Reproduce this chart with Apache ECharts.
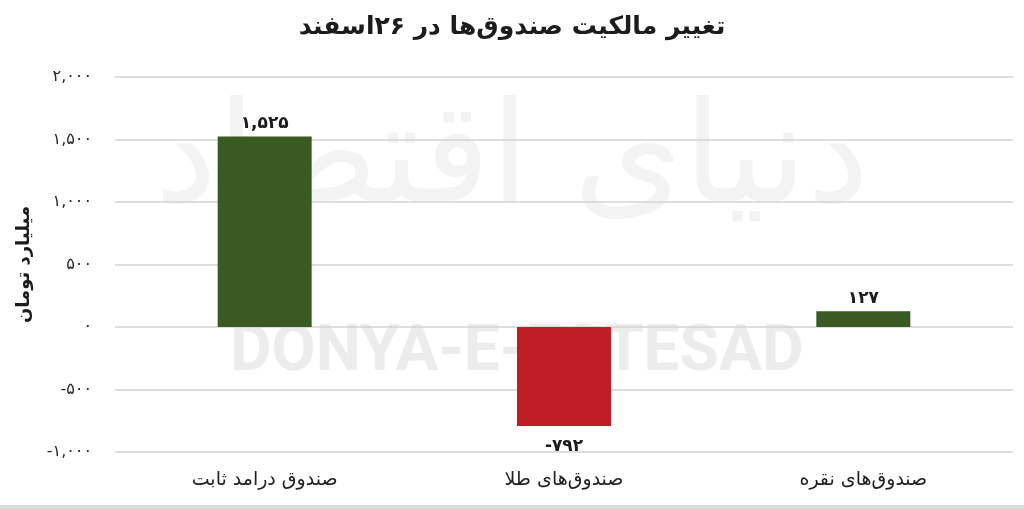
<!DOCTYPE html>
<html>
<head>
<meta charset="utf-8">
<script src="https://cdn.jsdelivr.net/npm/echarts@6/dist/echarts.min.js"></script>
<style>
html,body{margin:0;padding:0;background:#fff;}
#c{width:1024px;height:509px;}
</style>
</head>
<body>
<div id="c"></div>
<script>
const titleText = 'تغییر مالکیت صندوق‌ها در ۲۶اسفند';
const yAxisName = 'میلیارد تومان';
const categories = ['صندوق درامد ثابت', 'صندوق‌های طلا', 'صندوق‌های نقره'];
const values = [1525, -792, 127];
const barColors = ['#3a5a23', '#c01d26', '#3a5a23'];
const yMin = -1000, yMax = 2000, yStep = 500;

const FA = '۰۱۲۳۴۵۶۷۸۹';
function toFa(n) {
  const s = Math.abs(n).toLocaleString('en-US');
  const f = s.replace(/[0-9]/g, d => FA[+d]);
  return (n < 0 ? '-' : '') + f;
}

const font = '"DejaVu Sans", "Noto Sans", sans-serif';
const chart = echarts.init(document.getElementById('c'));
chart.setOption({
  backgroundColor: '#ffffff',
  animation: false,
  title: {
    text: titleText,
    left: 'center',
    top: 10,
    textStyle: { fontFamily: font, fontSize: 25, fontWeight: 'bold', color: '#1c1c1c' }
  },
  graphic: [
    {
      type: 'text', left: 'center', top: 95, z: -10, silent: true,
      style: { text: 'دنیای اقتصاد', font: '140px "DejaVu Sans"', fill: '#f3f3f3' }
    },
    {
      type: 'text', left: 230, top: 322, z: -10, silent: true,
      style: { text: 'DONYA-E-EQTESAD', font: 'bold 64px Roboto', fill: '#ececec' }
    },
    {
      type: 'rect', left: 0, top: 505, z: -10, silent: true,
      shape: { width: 1024, height: 4 },
      style: { fill: '#dcdcdc' }
    }
  ],
  grid: { left: 115, right: 11, top: 77, bottom: 57, containLabel: false },
  xAxis: {
    type: 'category',
    data: categories,
    axisLine: { show: false, onZero: false },
    axisTick: { show: false },
    axisLabel: { margin: 19, fontFamily: font, fontSize: 19, color: '#1e1e1e' }
  },
  yAxis: {
    type: 'value',
    min: yMin, max: yMax, interval: yStep,
    name: yAxisName,
    nameLocation: 'middle',
    nameRotate: 90,
    nameGap: 82,
    nameTextStyle: { fontFamily: font, fontSize: 18, fontWeight: 'bold', color: '#1c1c1c' },
    axisLine: { show: false },
    axisTick: { show: false },
    axisLabel: { margin: 23, fontFamily: font, fontSize: 16, color: '#262626', formatter: v => toFa(v) },
    splitLine: { lineStyle: { color: '#d3d3d3', width: 1.5 } }
  },
  series: [{
    type: 'bar',
    barWidth: 94,
    data: values.map((v, i) => ({
      value: v,
      itemStyle: { color: barColors[i] },
      label: { position: v < 0 ? 'bottom' : 'top', distance: v < 0 ? 12 : 4 }
    })),
    label: {
      show: true,
      fontFamily: font, fontSize: 17, fontWeight: 'bold', color: '#1c1c1c',
      formatter: p => toFa(p.value)
    }
  }]
});
</script>
</body>
</html>
